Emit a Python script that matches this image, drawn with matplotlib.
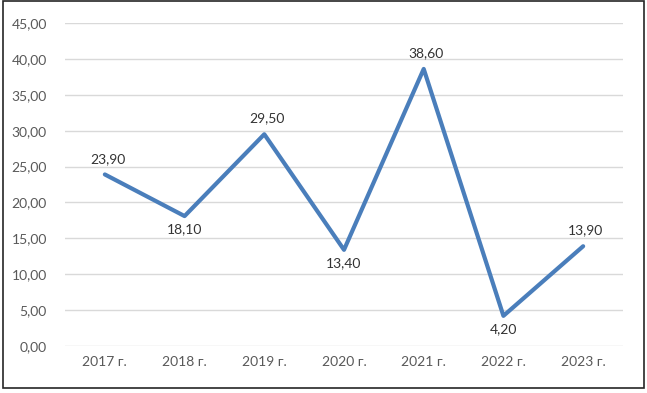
import numpy as np
import matplotlib
matplotlib.use("Agg")
import matplotlib.pyplot as plt
from matplotlib.patches import Rectangle

years = ["2017 г.", "2018 г.", "2019 г.", "2020 г.", "2021 г.", "2022 г.", "2023 г."]
values = [23.9, 18.1, 29.5, 13.4, 38.6, 4.2, 13.9]
# where each data label sits: +1 above, -1 below
label_side = [1, -1, 1, -1, 1, -1, 1]

plt.rcParams['font.family'] = ['Lato', 'DejaVu Sans']

fig = plt.figure(figsize=(6.47, 3.93), dpi=100)
ax = fig.add_axes([65 / 647, 47 / 393, 558 / 647, 323 / 393])

x = np.arange(len(years))
ax.plot(x, values, color="#4a7ebb", lw=3.0, solid_capstyle="round",
        solid_joinstyle="round", zorder=3)

for xi, v, s in zip(x, values, label_side):
    ax.annotate(f"{v:.2f}".replace(".", ","), (xi, v),
                xytext=(2 if s > 0 else 0, 7 * s if s > 0 else -5),
                textcoords="offset points", ha="center",
                va="bottom" if s > 0 else "top", fontsize=10, color="#333333")

ax.set_xlim(-0.5, len(years) - 0.5)
ax.set_ylim(0, 45)
ax.set_yticks(np.arange(0, 46, 5))
ax.set_yticklabels([f"{t:.2f}".replace(".", ",") for t in np.arange(0, 46, 5)])
ax.set_xticks(x)
ax.set_xticklabels(years)
ax.tick_params(axis="both", length=0, labelsize=10, labelcolor="#595959")
ax.tick_params(axis="y", pad=13)
ax.tick_params(axis="x", pad=7)
ax.grid(axis="y", color="#d9d9d9", lw=1)
ax.set_axisbelow(True)
for sp in ax.spines.values():
    sp.set_visible(False)

fig.patches.append(Rectangle((2.5 / 647, 5 / 393), 641 / 647, 387 / 393,
                             transform=fig.transFigure, fill=False,
                             edgecolor="#262626", lw=1.2))

fig.savefig("out.png", dpi=100)
